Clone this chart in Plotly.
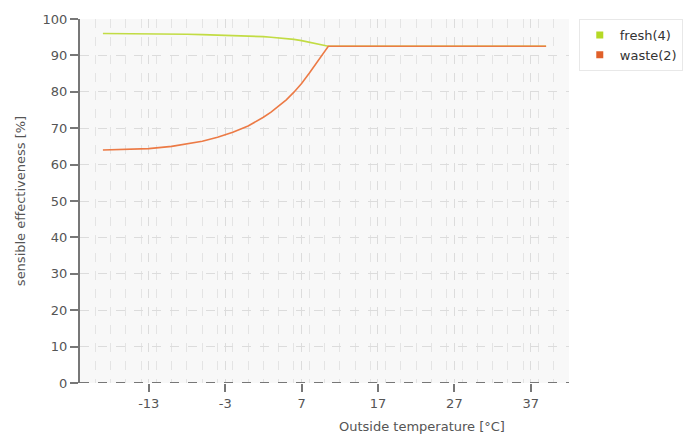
import plotly.graph_objects as go

temps = [-19, -16, -13, -10, -8, -6, -4, -2, 0, 1, 2, 3, 4, 5, 6, 7, 8, 9, 10, 10.5, 15, 20, 25, 30, 35, 39]
fresh = [96.0, 96.0, 95.9, 95.9, 95.8, 95.7, 95.6, 95.5, 95.35, 95.25, 95.15, 95.0, 94.85, 94.65, 94.4, 94.05, 93.65, 93.2, 92.75, 92.5, 92.5, 92.5, 92.5, 92.5, 92.5, 92.5]
waste = [64.0, 64.1, 64.4, 65.0, 65.6, 66.4, 67.5, 68.9, 70.6, 71.7, 73.0, 74.4, 76.0, 77.8, 79.9, 82.3, 85.1, 88.1, 91.2, 92.5, 92.5, 92.5, 92.5, 92.5, 92.5, 92.5]

x_ticks = [-13, -3, 7, 17, 27, 37]
y_ticks = list(range(0, 101, 10))

font = "DejaVu Sans"
grey = "#555555"
fresh_col = "#c2dc44"
waste_col = "#ec7a45"

fig = go.Figure()
fig.add_trace(go.Scatter(x=temps, y=fresh, mode="lines", showlegend=False,
                         line=dict(color=fresh_col, width=1.6)))
fig.add_trace(go.Scatter(x=temps, y=waste, mode="lines", showlegend=False,
                         line=dict(color=waste_col, width=1.6)))
# legend entries with square swatches
fig.add_trace(go.Scatter(x=[None], y=[None], mode="markers", name="fresh(4)",
                         marker=dict(symbol="square", size=7, color="#b5d925")))
fig.add_trace(go.Scatter(x=[None], y=[None], mode="markers", name="waste(2)",
                         marker=dict(symbol="square", size=7, color="#e0602a")))

fig.update_layout(
    width=695, height=439,
    margin=dict(l=80, r=122, t=15, b=56),
    paper_bgcolor="white",
    plot_bgcolor="#f8f8f8",
    font=dict(family=font, size=12, color=grey),
    showlegend=True,
    legend=dict(x=1.02, y=1.0, xanchor="left", yanchor="top",
                bgcolor="white", bordercolor="#e8e8e8", borderwidth=1,
                font=dict(family=font, size=13, color="#333333"),
                itemwidth=30, tracegroupgap=4),
    annotations=[dict(text="Outside temperature [°C]", xref="paper", yref="paper",
                      x=0.70, y=0, yshift=-43, xanchor="center", yanchor="middle",
                      showarrow=False, font=dict(family=font, size=13, color=grey))],
)
fig.update_xaxes(
    range=[-22, 42], tickvals=x_ticks, ticktext=[str(v) for v in x_ticks],
    showgrid=True, gridcolor="#dcdcdc", griddash="dash", gridwidth=1,
    minor=dict(dtick=2, tick0=-22, showgrid=True, gridcolor="#e4e4e4", griddash="dash"),
    ticks="outside", ticklen=8, tickcolor="#777777", tickwidth=1.5,
    showline=False, zeroline=False,
    tickfont=dict(family=font, size=13, color=grey),
)
fig.update_yaxes(
    range=[0, 100], tickvals=y_ticks,
    showgrid=True, gridcolor="#dcdcdc", griddash="dash", gridwidth=1,
    ticks="outside", ticklen=8, tickcolor="#777777", tickwidth=1.5,
    showline=True, linecolor="#777777", linewidth=2,
    zeroline=False,
    title=dict(text="sensible effectiveness [%]", font=dict(family=font, size=13, color=grey), standoff=14),
    tickfont=dict(family=font, size=13, color=grey),
)
# dashed baseline along the x axis
fig.add_hline(y=0, line=dict(color="#777777", width=2, dash="dash"))

fig.write_html("out.html")
